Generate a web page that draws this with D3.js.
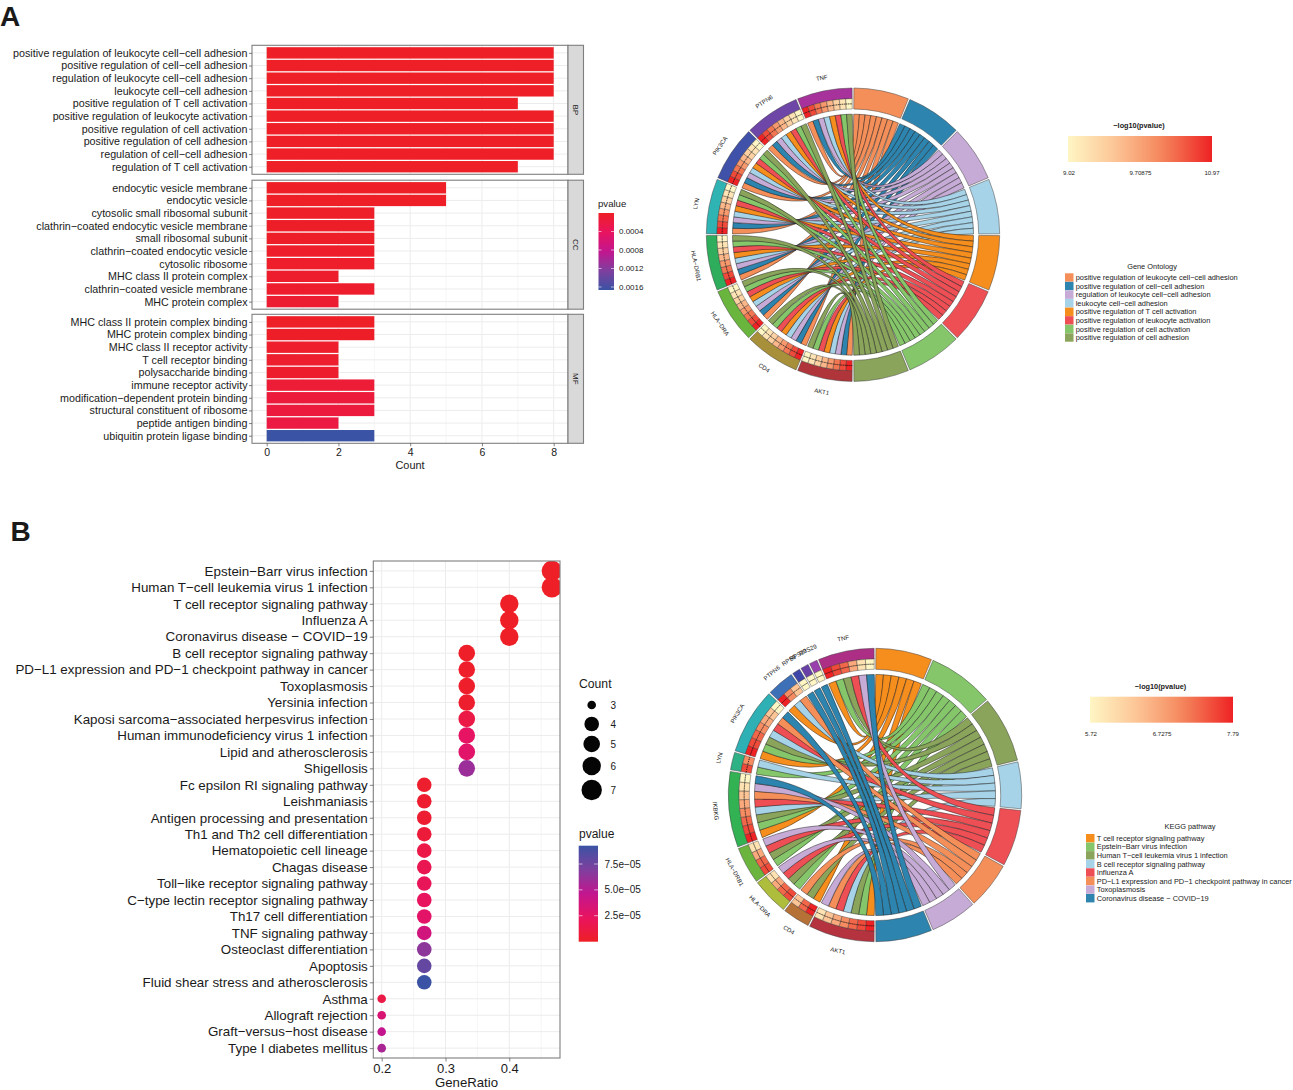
<!DOCTYPE html>
<html>
<head>
<meta charset="utf-8">
<script src="https://cdnjs.cloudflare.com/ajax/libs/d3/7.8.5/d3.min.js"></script>
<style>
  body { margin: 0; background: #fff; }
  text { font-family: "Liberation Sans", Arial, sans-serif; fill: #1a1a1a; }
</style>
</head>
<body>
<svg id="chart" width="1293" height="1090"></svg>
<script>
// panel A, bars
const bpTerms = ["positive regulation of leukocyte cell−cell adhesion", "positive regulation of cell−cell adhesion", "regulation of leukocyte cell−cell adhesion", "leukocyte cell−cell adhesion", "positive regulation of T cell activation", "positive regulation of leukocyte activation", "positive regulation of cell activation", "positive regulation of cell adhesion", "regulation of cell−cell adhesion", "regulation of T cell activation"];
const bpCounts = [8, 8, 8, 8, 7, 8, 8, 8, 8, 7];
const bpPvalues = [1e-11, 1e-11, 2e-11, 2e-11, 3e-11, 4e-11, 5e-11, 6e-11, 7e-11, 9e-10];
const ccTerms = ["endocytic vesicle membrane", "endocytic vesicle", "cytosolic small ribosomal subunit", "clathrin−coated endocytic vesicle membrane", "small ribosomal subunit", "clathrin−coated endocytic vesicle", "cytosolic ribosome", "MHC class II protein complex", "clathrin−coated vesicle membrane", "MHC protein complex"];
const ccCounts = [5, 5, 3, 3, 3, 3, 3, 2, 3, 2];
const ccPvalues = [1e-7, 2e-6, 1.5e-5, 2e-5, 2e-5, 3e-5, 3e-5, 6e-5, 6e-5, 8e-5];
const mfTerms = ["MHC class II protein complex binding", "MHC protein complex binding", "MHC class II receptor activity", "T cell receptor binding", "polysaccharide binding", "immune receptor activity", "modification−dependent protein binding", "structural constituent of ribosome", "peptide antigen binding", "ubiquitin protein ligase binding"];
const mfCounts = [3, 3, 2, 2, 2, 3, 3, 3, 2, 3];
const mfPvalues = [1e-5, 2e-5, 4e-5, 5e-5, 6e-5, 1.2e-4, 1.5e-4, 1.7e-4, 2e-4, 1.65e-3];
const barTicks = [0, 2, 4, 6, 8];
const barLegendTicks = [0.0004, 0.0008, 0.0012, 0.0016];

// panel B, dots
const keggTerms = ["Epstein−Barr virus infection", "Human T−cell leukemia virus 1 infection", "T cell receptor signaling pathway", "Influenza A", "Coronavirus disease − COVID−19", "B cell receptor signaling pathway", "PD−L1 expression and PD−1 checkpoint pathway in cancer", "Toxoplasmosis", "Yersinia infection", "Kaposi sarcoma−associated herpesvirus infection", "Human immunodeficiency virus 1 infection", "Lipid and atherosclerosis", "Shigellosis", "Fc epsilon RI signaling pathway", "Leishmaniasis", "Antigen processing and presentation", "Th1 and Th2 cell differentiation", "Hematopoietic cell lineage", "Chagas disease", "Toll−like receptor signaling pathway", "C−type lectin receptor signaling pathway", "Th17 cell differentiation", "TNF signaling pathway", "Osteoclast differentiation", "Apoptosis", "Fluid shear stress and atherosclerosis", "Asthma", "Allograft rejection", "Graft−versus−host disease", "Type I diabetes mellitus"];
const keggCounts = [7, 7, 6, 6, 6, 5, 5, 5, 5, 5, 5, 5, 5, 4, 4, 4, 4, 4, 4, 4, 4, 4, 4, 4, 4, 4, 3, 3, 3, 3];
const keggRatios = [0.4667, 0.4667, 0.4, 0.4, 0.4, 0.3333, 0.3333, 0.3333, 0.3333, 0.3333, 0.3333, 0.3333, 0.3333, 0.2667, 0.2667, 0.2667, 0.2667, 0.2667, 0.2667, 0.2667, 0.2667, 0.2667, 0.2667, 0.2667, 0.2667, 0.2667, 0.2, 0.2, 0.2, 0.2];
const keggPvalues = [1e-8, 3e-8, 1e-7, 2e-7, 2e-7, 1e-6, 1.5e-6, 2e-6, 3e-6, 1.3e-5, 2.5e-5, 2.8e-5, 6e-5, 3e-6, 3.5e-6, 5e-6, 8e-6, 1.4e-5, 1.8e-5, 2.1e-5, 2.3e-5, 2.7e-5, 3.8e-5, 6.5e-5, 7.9e-5, 9.3e-5, 1.3e-5, 3.3e-5, 4.6e-5, 5.5e-5];
const ratioTicks = [0.2, 0.3, 0.4];
const countLegend = [3, 4, 5, 6, 7];
const dotLegendTicks = [2.5e-5, 5e-5, 7.5e-5];
const dotLegendLabels = ["2.5e−05", "5.0e−05", "7.5e−05"];

// chord diagrams
const goNames = ["positive regulation of leukocyte cell−cell adhesion", "positive regulation of cell−cell adhesion", "regulation of leukocyte cell−cell adhesion", "leukocyte cell−cell adhesion", "positive regulation of T cell activation", "positive regulation of leukocyte activation", "positive regulation of cell activation", "positive regulation of cell adhesion"];
const goLogP = [10.97, 10.7, 10.4, 10.1, 9.8, 9.5, 9.25, 9.02];
const goGenes = ["AKT1", "CD4", "HLA−DRA", "HLA−DRB1", "LYN", "PIK3CA", "PTPN6", "TNF"];
const goMembers = [[0, 1, 2, 3, 4, 5, 6, 7], [0, 1, 2, 3, 4, 5, 6, 7], [0, 1, 2, 3, 4, 5, 6, 7], [0, 1, 2, 3, 4, 5, 6, 7], [0, 1, 2, 3, 4, 5, 6, 7], [0, 1, 2, 3, 4, 5, 6, 7], [0, 1, 2, 3, 4, 5, 6, 7], [0, 1, 2, 3, 4, 5, 6, 7]];
const goScaleLabels = ["9.02", "9.70875", "10.97"];
const goTermColors = ["#F58F59", "#2D84AE", "#C6ABD6", "#A6D3E8", "#F68E1E", "#EE4F55", "#85C66B", "#8AA45B"];
const goGeneColors = ["#B0353A", "#A8903A", "#6AB53E", "#2EAE5C", "#2FB3B3", "#3F51A8", "#6E46A8", "#A8329C"];

const pathNames = ["T cell receptor signaling pathway", "Epstein−Barr virus infection", "Human T−cell leukemia virus 1 infection", "B cell receptor signaling pathway", "Influenza A", "PD−L1 expression and PD−1 checkpoint pathway in cancer", "Toxoplasmosis", "Coronavirus disease − COVID−19"];
const pathLogP = [7.79, 7.5, 7.3, 7.0, 6.7, 6.4, 6.0, 5.72];
const pathGenes = ["AKT1", "CD4", "HLA−DRA", "HLA−DRB1", "IKBKG", "LYN", "PIK3CA", "PTPN6", "RPS9", "RPS23", "RPS29", "TNF"];
const pathMembers = [[0, 1, 2, 3, 4, 5, 6], [0, 2, 5], [1, 2, 4, 6], [1, 2, 4, 6], [0, 1, 2, 3, 4, 5, 6, 7], [1, 3], [0, 1, 2, 3, 4, 5, 7], [0, 3, 5], [7], [7], [7], [0, 1, 2, 4, 6, 7]];
const pathScaleLabels = ["5.72", "6.7275", "7.79"];
const pathTermColors = ["#F68E1E", "#85C66B", "#8AA45B", "#A6D3E8", "#EE4F55", "#F58F59", "#C6ABD6", "#2D84AE"];
const pathGeneColors = ["#B5323F", "#B57136", "#AEBE3C", "#6BB43E", "#33B254", "#2FB186", "#2FB0B5", "#3E70B8", "#3D45A8", "#6840A8", "#9A40AE", "#AD2F85"];

const svg = d3.select("#chart");
const defs = svg.append("defs");
// red to blue through magenta, as the legends show it
const pvalueRamp = d3.scaleLinear().domain([0, 0.25, 0.5, 0.75, 1]).range(["#EE1F26", "#E9145F", "#C2168F", "#7F3F9E", "#3A53A4"]);
const frameColor = "#7f7f7f";
const gridColor = "#ececec";

svg.append("text").attr("x", 0).attr("y", 25.5).attr("font-size", 28).attr("font-weight", "bold").text("A");
svg.append("text").attr("x", 10.5).attr("y", 541).attr("font-size", 28).attr("font-weight", "bold").text("B");

// vertical gradient colour bar, top colour first
function colorBar(id, x, y, w, h, fn) {
  const grad = defs.append("linearGradient").attr("id", id).attr("x1", 0).attr("y1", 0).attr("x2", 0).attr("y2", 1);
  d3.range(0, 1.001, 0.05).forEach(t => grad.append("stop").attr("offset", t).attr("stop-color", fn(t)));
  svg.append("rect").attr("x", x).attr("y", y).attr("width", w).attr("height", h).attr("fill", `url(#${id})`);
}

function styleAxis(g, size) {
  g.select(".domain").remove();
  g.selectAll(".tick line").attr("stroke", "#4d4d4d").attr("stroke-width", 0.7);
  g.selectAll(".tick text").attr("font-size", size).attr("font-family", "Liberation Sans").attr("fill", "#1a1a1a");
}

//// bars
const barX = d3.scaleLinear().domain([0, 8]).range([266.7, 553.7]);
const barColor = d3.scaleLinear().domain([0, 0.00165]).range([0, 1]);

function barPanel(name, top, terms, counts, pvalues) {
  const left = 252, right = 568, h = 129;
  const y = d3.scalePoint().domain(terms).range([top, top + h]).padding(0.6);
  const step = y.step();
  const g = svg.append("g");

  g.append("rect").attr("x", left).attr("y", top).attr("width", right - left).attr("height", h).attr("fill", "#fff");
  g.selectAll(".minor").data([1, 3, 5, 7]).enter().append("line")
    .attr("x1", d => barX(d)).attr("x2", d => barX(d)).attr("y1", top).attr("y2", top + h)
    .attr("stroke", gridColor).attr("stroke-width", 0.5);
  g.selectAll(".major").data(barTicks).enter().append("line")
    .attr("x1", d => barX(d)).attr("x2", d => barX(d)).attr("y1", top).attr("y2", top + h)
    .attr("stroke", gridColor).attr("stroke-width", 1);
  g.selectAll(".row").data(terms).enter().append("line")
    .attr("x1", left).attr("x2", right).attr("y1", d => y(d)).attr("y2", d => y(d))
    .attr("stroke", gridColor).attr("stroke-width", 1);

  g.selectAll(".bar").data(terms).enter().append("rect")
    .attr("x", barX(0))
    .attr("y", d => y(d) - step * 0.45)
    .attr("width", (d, i) => barX(counts[i]) - barX(0))
    .attr("height", step * 0.9)
    .attr("fill", (d, i) => pvalueRamp(barColor(pvalues[i])));

  g.append("rect").attr("x", left).attr("y", top).attr("width", right - left).attr("height", h)
    .attr("fill", "none").attr("stroke", frameColor).attr("stroke-width", 1.1);
  g.append("rect").attr("x", right).attr("y", top).attr("width", 15.5).attr("height", h)
    .attr("fill", "#d9d9d9").attr("stroke", frameColor).attr("stroke-width", 1.1);
  g.append("text").attr("transform", `translate(${right + 7.7},${top + h / 2}) rotate(90)`)
    .attr("text-anchor", "middle").attr("dy", "0.35em").attr("font-size", 8).text(name);

  g.append("g").attr("transform", `translate(${left},0)`)
    .call(d3.axisLeft(y).tickSize(3).tickPadding(1.5))
    .call(a => styleAxis(a, 10.72));
}
barPanel("BP", 45.3, bpTerms, bpCounts, bpPvalues);
barPanel("CC", 180.2, ccTerms, ccCounts, ccPvalues);
barPanel("MF", 314.3, mfTerms, mfCounts, mfPvalues);

svg.append("g").attr("transform", "translate(0,443.3)")
  .call(d3.axisBottom(barX).tickValues(barTicks).tickSize(3).tickPadding(2))
  .call(a => styleAxis(a, 10.5));
svg.append("text").attr("x", 410).attr("y", 468.5).attr("text-anchor", "middle").attr("font-size", 10.9).text("Count");

// bar legend
const barLegY = d3.scaleLinear().domain([0, 0.0016]).range([213, 287]);
svg.append("text").attr("x", 598).attr("y", 207).attr("font-size", 9.6).text("pvalue");
colorBar("barGrad", 598.5, 213, 15.5, 77, pvalueRamp);
barLegendTicks.forEach(d => {
  [[598.5, 601.5], [611, 614]].forEach(s => {
    svg.append("line").attr("x1", s[0]).attr("x2", s[1]).attr("y1", barLegY(d)).attr("y2", barLegY(d))
      .attr("stroke", "#fff").attr("stroke-width", 0.6);
  });
  svg.append("text").attr("x", 619).attr("y", barLegY(d)).attr("dy", "0.35em").attr("font-size", 8).text(d.toFixed(4));
});

//// dots
const dotLeft = 373.3, dotRight = 560, dotTop = 561, dotBottom = 1058;
const dotX = d3.scaleLinear().domain([0.2, 0.4]).range([381.7, 509.3]);
const dotY = d3.scalePoint().domain(keggTerms).range([dotTop, dotBottom]).padding(0.6);
const dotR = d3.scaleLinear().domain(countLegend).range([4.3, 7.3, 8.3, 9.2, 10.2]);
const dotColor = d3.scaleLinear().domain([0, 9.3e-5]).range([0, 1]);

defs.append("clipPath").attr("id", "dotClip").append("rect")
  .attr("x", dotLeft).attr("y", dotTop).attr("width", dotRight - dotLeft).attr("height", dotBottom - dotTop);

svg.selectAll(".dminor").data([0.25, 0.35, 0.45]).enter().append("line")
  .attr("x1", d => dotX(d)).attr("x2", d => dotX(d)).attr("y1", dotTop).attr("y2", dotBottom)
  .attr("stroke", gridColor).attr("stroke-width", 0.5);
svg.selectAll(".dmajor").data(ratioTicks).enter().append("line")
  .attr("x1", d => dotX(d)).attr("x2", d => dotX(d)).attr("y1", dotTop).attr("y2", dotBottom)
  .attr("stroke", gridColor).attr("stroke-width", 1);
svg.selectAll(".drow").data(keggTerms).enter().append("line")
  .attr("x1", dotLeft).attr("x2", dotRight).attr("y1", d => dotY(d)).attr("y2", d => dotY(d))
  .attr("stroke", gridColor).attr("stroke-width", 1);

svg.append("g").attr("clip-path", "url(#dotClip)")
  .selectAll("circle").data(keggTerms).enter().append("circle")
  .attr("cx", (d, i) => dotX(keggRatios[i]))
  .attr("cy", d => dotY(d))
  .attr("r", (d, i) => dotR(keggCounts[i]))
  .attr("fill", (d, i) => pvalueRamp(dotColor(keggPvalues[i])));

svg.append("rect").attr("x", dotLeft).attr("y", dotTop).attr("width", dotRight - dotLeft).attr("height", dotBottom - dotTop)
  .attr("fill", "none").attr("stroke", frameColor).attr("stroke-width", 1.1);
svg.append("g").attr("transform", `translate(${dotLeft},0)`)
  .call(d3.axisLeft(dotY).tickSize(3.5).tickPadding(2))
  .call(a => styleAxis(a, 13.38));
svg.append("g").attr("transform", `translate(0,${dotBottom})`)
  .call(d3.axisBottom(dotX).tickValues(ratioTicks).tickSize(3.5).tickPadding(2.5).tickFormat(d3.format(".1f")))
  .call(a => styleAxis(a, 13));
svg.append("text").attr("x", 466.5).attr("y", 1087.2).attr("text-anchor", "middle").attr("font-size", 13.2).text("GeneRatio");

// dot legends
const countLegY = d3.scaleLinear().domain(countLegend).range([705, 724, 744, 766, 790]);
svg.append("text").attr("x", 579).attr("y", 687.5).attr("font-size", 12.2).text("Count");
countLegend.forEach(c => {
  svg.append("circle").attr("cx", 591.7).attr("cy", countLegY(c)).attr("r", dotR(c)).attr("fill", "#050505");
  svg.append("text").attr("x", 610.5).attr("y", countLegY(c)).attr("dy", "0.35em").attr("font-size", 10).text(c);
});
const dotLegY = d3.scaleLinear().domain([0, 7.5e-5]).range([941.6, 864]);
svg.append("text").attr("x", 579).attr("y", 838).attr("font-size", 12).text("pvalue");
colorBar("dotGrad", 578.7, 845.7, 19.3, 96, t => pvalueRamp(1 - t));
dotLegendTicks.forEach((d, i) => {
  [[578.7, 582.5], [594.2, 598]].forEach(s => {
    svg.append("line").attr("x1", s[0]).attr("x2", s[1]).attr("y1", dotLegY(d)).attr("y2", dotLegY(d))
      .attr("stroke", "#fff").attr("stroke-width", 0.6);
  });
  svg.append("text").attr("x", 604.5).attr("y", dotLegY(d)).attr("dy", "0.35em").attr("font-size", 10).text(dotLegendLabels[i]);
});

//// chord diagrams
function chordPanel(opts) {
  const { cx, cy, genes, members, termColors, geneColors, logP, names } = opts;
  const ribbonR = 120.5, ringIn = 125.7, ringMid = 136, ringOut = 146.7, pad = 0.006;
  const g = svg.append("g").attr("transform", `translate(${cx},${cy})`);
  const heat = d3.scaleLinear().domain([d3.min(logP), d3.max(logP)]).range([0, 1]);
  const ramp = d3.scaleLinear().domain([0, 0.33, 0.66, 1]).range(["#FEF6C4", "#FDC596", "#F4845A", "#EE2224"]);
  const total = d3.sum(members, m => m.length);
  const geneAngle = d3.scaleLinear().domain([0, total]).range([Math.PI, 2 * Math.PI]);
  const termAngle = d3.scaleLinear().domain([0, total]).range([0, Math.PI]);
  const arc = d3.arc();
  const ribbon = d3.ribbon();

  // how many genes belong to each term, then where each term starts
  const termSizes = names.map((n, j) => members.filter(m => m.includes(j)).length);
  const termStarts = [];
  termSizes.reduce((acc, n, j) => { termStarts[j] = acc; return acc + n; }, 0);
  const termUsed = names.map(() => 0);

  const links = [];
  // term slots fill clockwise from the gene nearest the top (last gene first)
  const geneStarts = [];
  members.reduce((acc, m, i) => { geneStarts[i] = acc; return acc + m.length; }, 0);
  const tslot = names.map((n, j) => {
    const s = d3.scaleLinear().domain([0, termSizes[j]])
      .range([termAngle(termStarts[j]) + pad, termAngle(termStarts[j] + termSizes[j]) - pad]);
    return s;
  });
  for (let i = genes.length - 1; i >= 0; i--) {
    const a0 = geneAngle(geneStarts[i]) + pad, a1 = geneAngle(geneStarts[i] + members[i].length) - pad;
    const gslot = d3.scaleLinear().domain([0, members[i].length]).range([a0, a1]);
    members[i].forEach((t, k) => {
      const u = termUsed[t]++;
      links.push({
        term: t,
        source: { radius: ribbonR, startAngle: gslot(k), endAngle: gslot(k + 1) },
        target: { radius: ribbonR, startAngle: tslot[t](u), endAngle: tslot[t](u + 1) }
      });
    });
  }
  links.sort((a, b) => a.term - b.term);

  g.selectAll(".rib").data(links).enter().append("path")
    .attr("d", d => ribbon(d))
    .attr("fill", d => termColors[d.term])
    .attr("stroke", "#111").attr("stroke-width", 0.45);

  // terms
  g.selectAll(".term").data(names).enter().append("path")
    .attr("d", (d, j) => arc({
      innerRadius: ringIn, outerRadius: ringOut,
      startAngle: termAngle(termStarts[j]) + pad,
      endAngle: termAngle(termStarts[j] + termSizes[j]) - pad
    }))
    .attr("fill", (d, j) => termColors[j])
    .attr("stroke", "#444").attr("stroke-width", 0.5);

  // genes: outer colour band and the heat cells
  genes.forEach((gene, i) => {
    const a0 = geneAngle(geneStarts[i]) + pad, a1 = geneAngle(geneStarts[i] + members[i].length) - pad;
    g.append("path")
      .attr("d", arc({ innerRadius: ringMid, outerRadius: ringOut, startAngle: a0, endAngle: a1 }))
      .attr("fill", geneColors[i]).attr("stroke", "#444").attr("stroke-width", 0.5);
    const gslot = d3.scaleLinear().domain([0, members[i].length]).range([a0, a1]);
    members[i].forEach((t, k) => {
      g.append("path")
        .attr("d", arc({ innerRadius: ringIn, outerRadius: ringMid, startAngle: gslot(k), endAngle: gslot(k + 1) }))
        .attr("fill", ramp(heat(logP[t]))).attr("stroke", "#333").attr("stroke-width", 0.4);
      g.append("path")
        .attr("d", arc({ innerRadius: (ringIn + ringMid) / 2, outerRadius: (ringIn + ringMid) / 2, startAngle: gslot(k), endAngle: gslot(k + 1) }))
        .attr("fill", "none").attr("stroke", "#111").attr("stroke-width", 0.6).attr("stroke-dasharray", "1.2 1.2");
    });
    const mid = (a0 + a1) / 2;
    const deg = mid * 180 / Math.PI;
    const rot = deg > 270 ? deg - 360 : deg - 180;
    g.append("text")
      .attr("transform", `translate(${160 * Math.sin(mid)},${-160 * Math.cos(mid)}) rotate(${rot})`)
      .attr("text-anchor", "middle").attr("dy", "0.35em").attr("font-size", 6).text(gene);
  });

  // legends next to the diagram
  const lx = opts.legendX;
  const bar = opts.bar;
  const hgrad = defs.append("linearGradient").attr("id", opts.id);
  d3.range(0, 1.001, 0.1).forEach(t => hgrad.append("stop").attr("offset", t).attr("stop-color", ramp(t)));
  svg.append("rect").attr("x", bar.x).attr("y", bar.y).attr("width", bar.w).attr("height", 26).attr("fill", `url(#${opts.id})`);
  svg.append("text").attr("x", bar.x + bar.w / 2 - 1).attr("y", bar.y - 8).attr("text-anchor", "middle")
    .attr("font-size", 7.3).attr("font-weight", "bold").text("−log10(pvalue)");
  const sx = d3.scalePoint().domain(opts.scaleLabels).range([bar.x + 1, bar.x + bar.w]);
  opts.scaleLabels.forEach(l => {
    svg.append("text").attr("x", sx(l)).attr("y", bar.y + 37).attr("dy", "0.35em").attr("text-anchor", "middle")
      .attr("font-size", 6.1).text(l);
  });
  svg.append("text").attr("x", opts.titleX).attr("y", opts.titleY).attr("text-anchor", "middle").attr("dy", "0.35em")
    .attr("font-size", 7.4).text(opts.title);
  const ly = d3.scalePoint().domain(names).range([opts.titleY + 11.5, opts.titleY + 71.5]);
  names.forEach((n, j) => {
    svg.append("rect").attr("x", lx).attr("y", ly(n) - 4.2).attr("width", 8.5).attr("height", 8.4).attr("fill", termColors[j]);
    svg.append("text").attr("x", lx + 10.7).attr("y", ly(n)).attr("dy", "0.35em").attr("font-size", 7.42).text(n);
  });
}

chordPanel({
  id: "goGrad", cx: 853, cy: 234.7, genes: goGenes, members: goMembers, termColors: goTermColors, geneColors: goGeneColors,
  logP: goLogP, names: goNames, legendX: 1065, bar: { x: 1068, y: 136, w: 144 }, scaleLabels: goScaleLabels,
  title: "Gene Ontology", titleX: 1152, titleY: 266
});
chordPanel({
  id: "pathGrad", cx: 875, cy: 795, genes: pathGenes, members: pathMembers, termColors: pathTermColors, geneColors: pathGeneColors,
  logP: pathLogP, names: pathNames, legendX: 1086, bar: { x: 1090, y: 696.7, w: 143 }, scaleLabels: pathScaleLabels,
  title: "KEGG pathway", titleX: 1190, titleY: 826.7
});
</script>
</body>
</html>
